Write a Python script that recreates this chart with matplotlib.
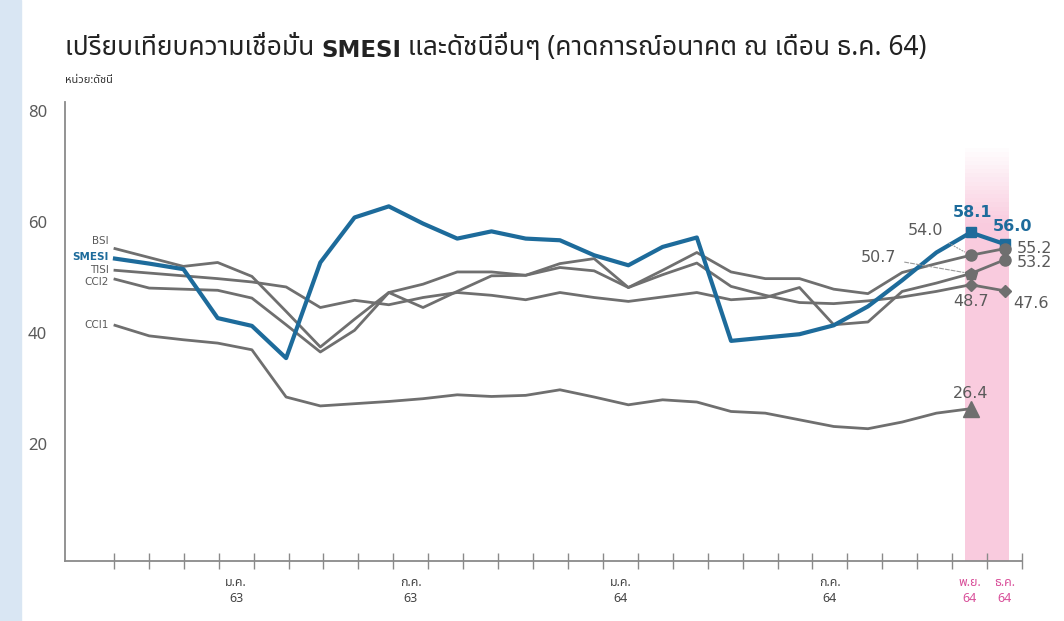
import numpy as np
import matplotlib
matplotlib.use("Agg")
import matplotlib.pyplot as plt
from matplotlib import font_manager
from matplotlib.ft2font import FT2Font
from matplotlib.patches import Rectangle

# monthly points, ต.ค. 62 ... ธ.ค. 64 (27 months)
months = np.arange(27)

smesi = [53.4, 52.5, 51.5, 42.7, 41.3, 35.5, 52.7, 60.8, 62.8, 59.7, 57.0, 58.3, 57.0, 56.7,
         54.0, 52.2, 55.5, 57.2, 38.6, 39.2, 39.8, 41.4, 44.8, 49.5, 54.5, 58.1, 56.0]
bsi = [55.2, 53.6, 52.0, 52.7, 50.2, 43.9, 37.5, 42.5, 47.3, 48.8, 51.0, 51.0, 50.4, 52.5,
       53.4, 48.2, 51.3, 54.5, 51.0, 49.8, 49.8, 47.9, 47.1, 50.9, 52.5, 54.0, 55.2]
tisi = [51.3, 50.8, 50.3, 49.8, 49.2, 48.3, 44.6, 45.9, 45.1, 46.4, 47.3, 46.8, 46.0, 47.3,
        46.4, 45.7, 46.5, 47.3, 46.0, 46.4, 48.2, 41.5, 42.0, 47.5, 49.0, 50.7, 53.2]
cci2 = [49.7, 48.1, 47.9, 47.7, 46.3, 41.5, 36.6, 40.5, 47.3, 44.6, 47.5, 50.3, 50.4, 51.8,
        51.2, 48.2, 50.5, 52.6, 48.4, 46.8, 45.5, 45.3, 45.8, 46.5, 47.5, 48.7, 47.6]
cci1 = [41.4, 39.5, 38.8, 38.2, 37.0, 28.5, 26.9, 27.3, 27.7, 28.2, 28.9, 28.6, 28.8, 29.8,
        28.5, 27.1, 28.0, 27.6, 25.9, 25.6, 24.4, 23.2, 22.8, 24.0, 25.6, 26.4, np.nan]

month_labels = ['ม.ค.\n63', 'ก.ค.\n63', 'ม.ค.\n64', 'ก.ค.\n64', 'พ.ย.\n64', 'ธ.ค.\n64']
month_slots = [3, 8, 14, 20, 24, 25]
yticks = [20, 40, 60, 80]

BLUE = '#1d6b9b'
GRAY = '#6f6f6f'
TXT = '#5a5a5a'
PINK = '#d9509a'


def thai_font():
    found = []
    for f in font_manager.fontManager.ttflist:
        try:
            cmap = FT2Font(f.fname).get_charmap()
        except Exception:
            continue
        if 0x0E01 in cmap and 0x0E40 in cmap:
            found.append(f.name)
    for pref in ['Noto Sans Thai', 'Noto Sans Thai Looped', 'Loma', 'Garuda', 'Sarabun']:
        if pref in found:
            return pref
    return found[0] if found else 'DejaVu Sans'


plt.rcParams['font.family'] = [thai_font(), 'DejaVu Sans']

fig = plt.figure(figsize=(10.64, 6.21), dpi=100)
fig.patches.append(Rectangle((0, 0), 0.02, 1, transform=fig.transFigure,
                             color='#d9e6f3', zorder=0))
ax = fig.add_axes([0.0611, 0.0966, 0.8994, 0.7385])

# forecast band
band = np.ones((100, 1, 4))
band[..., 0], band[..., 1], band[..., 2] = 0.98, 0.78, 0.86
band[:, 0, 3] = np.clip(np.linspace(0, 75, 100) * -1 / 14 + 75 / 14, 0, 1) * 0.9
ax.imshow(band, extent=[24.83, 26.09, -1, 74], origin='lower', aspect='auto', zorder=0)

for vals in [bsi, tisi, cci2, cci1]:
    ax.plot(months, vals, color=GRAY, lw=2, zorder=2)
ax.plot(months, smesi, color=BLUE, lw=3, zorder=3)

# end markers
ax.plot(months[25:], smesi[25:], 's', color=BLUE, ms=7, zorder=4)
ax.plot(months[25:], bsi[25:], 'o', color=GRAY, ms=8, zorder=4)
ax.plot(months[25], tisi[25], 'p', color=GRAY, ms=9, zorder=4)
ax.plot(months[26], tisi[26], 'o', color=GRAY, ms=8, zorder=4)
ax.plot(months[25:], cci2[25:], 'D', color=GRAY, ms=6, zorder=4)
ax.plot(months[25], cci1[25], '^', color=GRAY, ms=11, zorder=4)

# value labels
def val(x, y, dx, dy, color=TXT, ha='center', bold=False):
    ax.annotate(f'{y:.1f}', (x, y), xytext=(dx, dy), textcoords='offset pixels',
                ha=ha, va='center', color=color, fontsize=11.5,
                fontweight='bold' if bold else 'normal', family='DejaVu Sans', zorder=5)

val(25, smesi[25], 2, 20, BLUE, bold=True)
val(26, smesi[26], 8, 18, BLUE, bold=True)
val(26, bsi[26], 12, 0, ha='left')
val(26, tisi[26], 12, -3, ha='left')
val(26, cci2[26], 8, -13, ha='left')
val(25, cci2[25], 0, -17)
val(25, cci1[25], 0, 15)
ax.annotate(f'{bsi[25]:.1f}', (25, bsi[25]), xytext=(-45, 25), textcoords='offset pixels',
            ha='center', va='center', color=TXT, fontsize=11.5, family='DejaVu Sans',
            arrowprops=dict(arrowstyle='-', color='#999999', lw=0.8, ls=':', shrinkA=4, shrinkB=5))
ax.annotate(f'{tisi[25]:.1f}', (25, tisi[25]), xytext=(-92, 16), textcoords='offset pixels',
            ha='center', va='center', color=TXT, fontsize=11.5, family='DejaVu Sans',
            arrowprops=dict(arrowstyle='-', color='#999999', lw=0.8, ls='--', shrinkA=4, shrinkB=5))

# series names at the start of the lines
names = [('BSI', bsi, 8, TXT), ('SMESI', smesi, 2, BLUE), ('TISI', tisi, 0, TXT),
         ('CCI2', cci2, -3, TXT), ('CCI1', cci1, 0, TXT)]
for name, vals, dy, c in names:
    ax.annotate(name, (0, vals[0]), xytext=(-6, dy), textcoords='offset pixels',
                ha='right', va='center', fontsize=7.5, color=c, family='DejaVu Sans',
                fontweight='bold' if name == 'SMESI' else 'normal')

# axes styling
ax.set_xlim(-1.46, 26.5)
ax.set_ylim(-1, 81.5)
for s in ['top', 'right']:
    ax.spines[s].set_visible(False)
for s in ['left', 'bottom']:
    ax.spines[s].set_color('#8a8a8a')
    ax.spines[s].set_linewidth(1.3)
ax.set_yticks(yticks)
ax.tick_params(axis='y', length=0, pad=13, labelsize=12, labelcolor=TXT)
edges = np.linspace(-0.03, 26.5, 27)
ax.set_xticks(edges)
ax.set_xticklabels([])
ax.tick_params(axis='x', direction='inout', length=11, width=1, color='#8a8a8a')
step = edges[1] - edges[0]
for lab, k in zip(month_labels, month_slots):
    c = PINK if k >= 24 else '#444444'
    ax.text(edges[k] + step / 2, -0.065, lab, transform=ax.get_xaxis_transform(),
            ha='center', va='center', fontsize=9, color=c, linespacing=1.3)

# title in pieces so SMESI can be bold
t1 = fig.text(0.061, 0.9, 'เปรียบเทียบความเชื่อมั่น ', fontsize=19, color='#222222', va='bottom')
t2 = ax.annotate('SMESI', xy=(1, 0), xycoords=t1, va='bottom', fontsize=16.5,
                 fontweight='bold', family='DejaVu Sans', color='#222222',
                 annotation_clip=False)
ax.annotate(' และดัชนีอื่นๆ (คาดการณ์อนาคต ณ เดือน ธ.ค. 64)', xy=(1, 0), xycoords=t2,
            va='bottom', fontsize=19, color='#222222', annotation_clip=False)
fig.text(0.061, 0.871, 'หน่วย:ดัชนี', fontsize=8, color='#333333', va='center')

fig.savefig('out.png', dpi=100)
